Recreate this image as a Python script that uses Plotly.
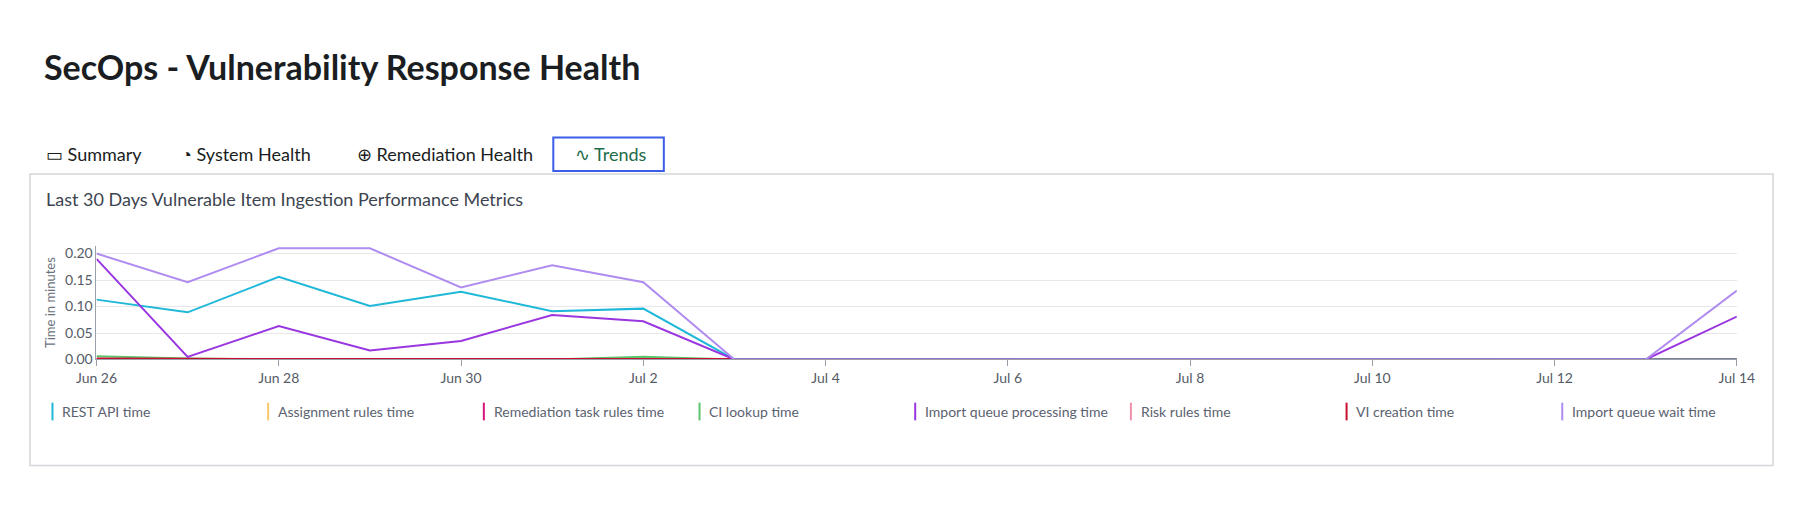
import plotly.graph_objects as go

dates = ["2024-06-%02d" % d for d in range(26, 31)] + ["2024-07-%02d" % d for d in range(1, 15)]
rest_api = [0.113, 0.089, 0.156, 0.101, 0.128, 0.091, 0.096] + [0]*12
assignment = [0]*19
remediation = [0]*19
ci_lookup = [0.006, 0.002, 0, 0, 0, 0, 0.005] + [0]*12
import_proc = [0.19, 0.005, 0.063, 0.017, 0.035, 0.084, 0.072] + [0]*11 + [0.081]
risk = [0]*19
vi_creation = [0.002, 0.001, 0.001, 0.001, 0.001, 0.001, 0.001] + [0]*12
import_wait = [0.20, 0.146, 0.21, 0.21, 0.136, 0.178, 0.146] + [0]*11 + [0.13]

names = ["REST API time", "Assignment rules time", "Remediation task rules time", "CI lookup time",
         "Import queue processing time", "Risk rules time", "VI creation time", "Import queue wait time"]
colors = ["#1fb8d9", "#f9c96b", "#d6157a", "#5cc46e", "#9a36e0", "#ef8fa8", "#c8102e", "#b08cf0"]
series = [rest_api, assignment, remediation, ci_lookup, import_proc, risk, vi_creation, import_wait]
draw_order = [3, 1, 2, 5, 6, 0, 4, 7]

W, H = 1785, 493
fig = go.Figure()
for i in draw_order:
    fig.add_trace(go.Scatter(x=dates, y=series[i], name=names[i], mode="lines",
                             line=dict(color=colors[i], width=2), showlegend=False))

def px(x): return x / W
def py(y): return 1 - y / H

def note(text, x, y, size, color, anchor="left"):
    return dict(text=text, x=px(x), y=py(y), xref="paper", yref="paper", showarrow=False,
                xanchor=anchor, yanchor="middle", font=dict(size=size, color=color, family="Lato"))

shapes = [
    dict(type="rect", xref="paper", yref="paper", x0=px(1), x1=px(1783), y0=py(465), y1=py(168),
         line=dict(color="#d4d6da", width=1.5), fillcolor="rgba(0,0,0,0)", layer="below"),
    dict(type="rect", xref="paper", yref="paper", x0=px(536), x1=px(649), y0=py(165), y1=py(131),
         line=dict(color="#3b5ee8", width=2), fillcolor="rgba(0,0,0,0)"),
]
ann = [
    note("<b>SecOps - Vulnerability Response Health</b>", 13, 59, 34, "#1a1d21"),
    note("Last 30 Days Vulnerable Item Ingestion Performance Metrics", 15, 194, 18, "#3d4450"),
]
tabs = [("▭ Summary", 15, "#1a1d21"), ("◔ System Health", 153, "#1a1d21"),
        ("⊕ Remediation Health", 333, "#1a1d21"), ("∿ Trends", 556, "#1e6b4a")]
for t, x, c in tabs:
    ann.append(note(t, x, 148, 18, c))
for k, n in enumerate(names):
    x = 24 + k * 220.5
    shapes.append(dict(type="line", xref="paper", yref="paper", x0=px(x), x1=px(x), y0=py(401), y1=py(419),
                       line=dict(color=colors[k], width=2)))
    ann.append(note(n, x + 8, 410, 14, "#5b6270"))

fig.update_layout(
    width=W, height=H, margin=dict(l=0, r=0, t=0, b=0), plot_bgcolor="white", paper_bgcolor="white",
    font=dict(family="Lato", color="#555b66"), shapes=shapes, annotations=ann,
    xaxis=dict(domain=[px(69), px(1746)], type="date", range=["2024-06-26", "2024-07-14"],
               tickvals=["2024-06-%02d" % d for d in (26, 28, 30)] + ["2024-07-%02d" % d for d in (2, 4, 6, 8, 10, 12, 14)],
               tickformat="%b %-d", ticks="outside", ticklen=6, tickcolor="#9aa0a8",
               showgrid=False, showline=True, linecolor="#9aa0a8", tickfont=dict(size=14, color="#555b66")),
    yaxis=dict(domain=[py(357), py(241)], range=[0, 0.215], tickvals=[0, 0.05, 0.1, 0.15, 0.2],
               tickformat=".2f", gridcolor="#e6e8eb", showline=True, linecolor="#9aa0a8", zeroline=False,
               tickfont=dict(size=14, color="#555b66"),
               title=dict(text="Time in minutes", font=dict(size=13, color="#6b717c"), standoff=6)),
)
fig.write_html("out.html")
